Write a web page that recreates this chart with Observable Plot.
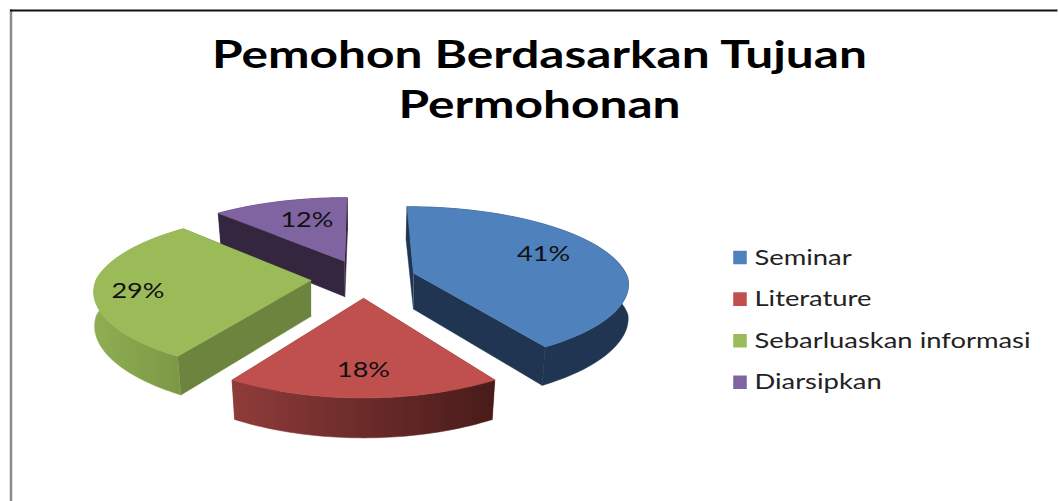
<!DOCTYPE html>
<html>
<head>
<meta charset="utf-8">
<script src="https://cdn.jsdelivr.net/npm/d3@7"></script>
<script src="https://cdn.jsdelivr.net/npm/@observablehq/plot@0.6"></script>
<style>
html,body{margin:0;padding:0;background:#fff;overflow:hidden}
svg{display:block}
</style>
</head>
<body>
<div id="chart"></div>
<script>
// Data
const titleLines = ["Pemohon Berdasarkan Tujuan", "Permohonan"];
const categories = ["Seminar", "Literature", "Sebarluaskan informasi", "Diarsipkan"];
const shares = [41, 18, 29, 12];

// Styles
const topColors  = ["#4f81bd", "#c0504d", "#9bbb59", "#8064a2"];
const faceColors = ["#1f3551", "#8a3a38", "#6d843e", "#35263f"];
const wallFrom   = ["#1f3551", "#8f3c3a", "#8fae51", "#35263f"];
const wallTo     = ["#1f3551", "#481b1a", "#7a9745", "#35263f"];

// Layout of the tilted, exploded pie
const W = 1059, H = 501;
const cx = 363, cy = 278, R = 214.5, Ry = 78, persp = 0.15, perspNearX = 0.115, explode = 0.245;
const labelFrac = [0.457, 0.5, 0.46, 0.57];
const labelRadius = [0.70, 0.75, 0.80, 0.65];

const arcs = d3.pie().sort(null)(shares);
function project(a, r, mid, bottom) {
  const X = explode * Math.sin(mid) + r * Math.sin(a);
  const Y = explode * Math.cos(mid) + r * Math.cos(a);
  const wx = 1 + (Y < 0 ? perspNearX : persp) * Y;
  const wy = 1 + persp * Y;
  let sx = R * X / wx, sy = cy - Ry * Y / wy;
  if (bottom) {
    sx *= 1 - 0.02 * Math.min(1, Math.abs(Y));
    sy += 36 / (1 + 0.08 * Y);
  }
  return {x: cx + sx, y: sy};
}

const polys = [];
let pid = 0;
function poly(pts, color) {
  const id = pid++;
  for (const p of pts) polys.push({id, x: p.x, y: p.y, color});
}
const paintOrder = [3, 0, 2, 1];
for (const i of paintOrder) {
  const {startAngle: a0, endAngle: a1} = arcs[i];
  const mid = (a0 + a1) / 2;
  const ang = d3.range(61).map(k => a0 + (a1 - a0) * k / 60);
  // radial faces
  for (const a of [a0, a1]) {
    poly([project(a, 0, mid), project(a, 1, mid),
          project(a, 1, mid, true), project(a, 0, mid, true)], faceColors[i]);
  }
  // outer wall
  poly([...ang.map(a => project(a, 1, mid)),
        ...ang.slice().reverse().map(a => project(a, 1, mid, true))], `url(#wall${i})`);
  // top surface
  poly([project(a0, 0, mid), ...ang.map(a => project(a, 1, mid))], topColors[i]);
}

const labels = arcs.map((d, i) => {
  const mid = (d.startAngle + d.endAngle) / 2;
  const a = d.startAngle + (d.endAngle - d.startAngle) * labelFrac[i];
  return {...project(a, labelRadius[i], mid), text: shares[i] + "%"};
});
const legend = categories.map((name, i) => ({name, color: topColors[i], y: 257 + i * 41.6}));
const titleRows = titleLines.map((text, i) => ({text, y: 55 + i * 50}));

const plot = Plot.plot({
  width: W, height: H,
  marginTop: 10, marginLeft: 10.5, marginRight: 3, marginBottom: 0,
  x: {domain: [0, W], range: [0, W], axis: null},
  y: {domain: [0, H], range: [0, H], axis: null},
  color: {type: "identity"},
  style: {background: "#fff"},
  marks: [
    Plot.frame({anchor: "left", stroke: "#8a8a8a", strokeWidth: 2.5}),
    Plot.frame({anchor: "top", stroke: "#111", strokeWidth: 2}),
    Plot.line(polys, {x: "x", y: "y", z: "id", fill: "color", stroke: "color", strokeWidth: 0.5, curve: "linear"}),
    Plot.text(labels, {x: "x", y: "y", text: "text", fontFamily: "Lato", fontSize: 22, fill: "#111", className: "pct"}),
    Plot.text(titleRows, {x: () => 539, y: "y", text: "text", fontFamily: "Lato", fontWeight: 700, fontSize: 38, fill: "#000", textAnchor: "middle", className: "ttl"}),
    Plot.dot(legend, {x: () => 739.5, y: "y", fill: "color", stroke: "color", symbol: "square", r: 6.8}),
    Plot.text(legend, {x: () => 754, y: "y", text: "name", fontFamily: "Lato", fontSize: 22, fill: "#222", textAnchor: "start", className: "lgd"})
  ]
});
document.getElementById("chart").append(plot);

// Wall gradients
const defs = d3.select(plot).insert("defs", ":first-child");
wallFrom.forEach((c, i) => {
  const g = defs.append("linearGradient").attr("id", `wall${i}`);
  g.append("stop").attr("offset", 0).attr("stop-color", c);
  g.append("stop").attr("offset", 1).attr("stop-color", wallTo[i]);
});

// The reference text is horizontally stretched
function stretch(cls, factor) {
  d3.select(plot).selectAll(`g.${cls} text`).each(function() {
    const len = this.getComputedTextLength();
    this.setAttribute("textLength", len * factor);
    this.setAttribute("lengthAdjust", "spacingAndGlyphs");
  });
}
function fit(cls, longest, target) {
  let f = 1;
  d3.select(plot).selectAll(`g.${cls} text`).each(function() {
    if (this.textContent === longest) f = target / this.getComputedTextLength();
  });
  stretch(cls, f);
}
fit("ttl", titleLines[0], 655);
fit("lgd", categories[2], 276);
fit("pct", "41%", 53);
</script>
</body>
</html>
